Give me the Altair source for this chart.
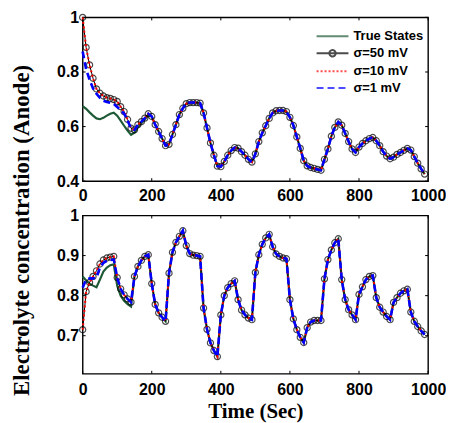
import altair as alt
import pandas as pd

# ---------------- data ----------------
time = list(range(0, 1000, 10))

top_sigma50 = [
    1.000, 0.890, 0.826, 0.777, 0.738, 0.722, 0.712, 0.706, 0.703, 0.699,
    0.692, 0.673, 0.655, 0.626, 0.594, 0.588, 0.607, 0.618, 0.631, 0.647,
    0.637, 0.607, 0.582, 0.556, 0.530, 0.535, 0.571, 0.607, 0.644, 0.667,
    0.684, 0.688, 0.688, 0.688, 0.686, 0.650, 0.595, 0.540, 0.495, 0.455,
    0.453, 0.472, 0.495, 0.512, 0.523, 0.521, 0.508, 0.495, 0.480, 0.470,
    0.500, 0.545, 0.577, 0.603, 0.630, 0.650, 0.658, 0.659, 0.659, 0.655,
    0.634, 0.604, 0.562, 0.520, 0.475, 0.456, 0.450, 0.447, 0.443, 0.440,
    0.480, 0.518, 0.565, 0.597, 0.617, 0.605, 0.575, 0.545, 0.518, 0.505,
    0.525, 0.538, 0.548, 0.556, 0.560, 0.548, 0.530, 0.508, 0.492, 0.482,
    0.488, 0.498, 0.505, 0.513, 0.520, 0.514, 0.490, 0.466, 0.445, 0.426,
]
# early part (t = 0 ... ) where the other curves differ from sigma=50 mV
top_true_early = [0.675, 0.665, 0.652, 0.640, 0.630, 0.627, 0.632, 0.640, 0.647, 0.651,
                  0.640, 0.622, 0.603, 0.585, 0.570, 0.578, 0.597, 0.612, 0.627, 0.643]
top_sigma1_early = [0.875, 0.810, 0.772, 0.740, 0.720, 0.705, 0.695, 0.690, 0.687, 0.683,
                    0.672, 0.660, 0.648, 0.622]

bottom_sigma50 = [
    0.715, 0.810, 0.833, 0.848, 0.862, 0.879, 0.889, 0.894, 0.896, 0.898,
    0.845, 0.817, 0.802, 0.792, 0.784, 0.848, 0.873, 0.888, 0.898, 0.902,
    0.830, 0.778, 0.757, 0.746, 0.736, 0.856, 0.908, 0.933, 0.948, 0.962,
    0.925, 0.905, 0.901, 0.900, 0.898, 0.769, 0.716, 0.682, 0.663, 0.648,
    0.752, 0.800, 0.820, 0.830, 0.837, 0.790, 0.764, 0.752, 0.744, 0.740,
    0.858, 0.902, 0.928, 0.944, 0.953, 0.922, 0.904, 0.898, 0.894, 0.892,
    0.790, 0.742, 0.715, 0.696, 0.683, 0.720, 0.734, 0.738, 0.738, 0.738,
    0.842, 0.890, 0.914, 0.932, 0.942, 0.840, 0.790, 0.765, 0.752, 0.740,
    0.803, 0.822, 0.840, 0.848, 0.850, 0.795, 0.771, 0.759, 0.748, 0.740,
    0.783, 0.795, 0.806, 0.812, 0.816, 0.759, 0.736, 0.723, 0.712, 0.703,
]
bottom_true_early = [0.848, 0.838, 0.830, 0.825, 0.821, 0.840, 0.860, 0.870, 0.876, 0.878,
                     0.825, 0.800, 0.787, 0.779, 0.773]
bottom_sigma1_early = [0.820, 0.840, 0.843, 0.843, 0.845, 0.870, 0.882, 0.887, 0.889, 0.890]

series_names = ["True States", "σ=50 mV", "σ=10 mV", "σ=1 mV"]
series_colors = ["#1f5a37", "#000000", "#ff0000", "#0000ff"]
x_ticks = [0, 200, 400, 600, 800, 1000]
top_y_ticks = [0.4, 0.6, 0.8, 1.0]
bottom_y_ticks = [0.7, 0.8, 0.9, 1.0]


def join(early, base):
    return early + base[len(early):]


W = 347
LABEL_EXPR = "datum.value == 1 ? '1' : format(datum.value, '.1f')"


def panel(s50, true_vals, s1_vals, ydom, yticks, H, bottom):
    df = pd.DataFrame({"time": time, "true": true_vals, "s50": s50,
                       "s10": s50, "s1": s1_vals})
    base = alt.Chart(df)
    if bottom:
        xaxis = alt.Axis(values=x_ticks, format="d", labelPadding=8,
                         title="Time (Sec)", titleFont="Liberation Serif",
                         titleFontSize=21, titleFontWeight="bold",
                         titleColor="black", titlePadding=3)
        yaxis = alt.Axis(values=yticks, labelExpr=LABEL_EXPR, labelPadding=4,
                         title="Electrolyte concentration (Anode)",
                         titleFont="Liberation Serif", titleFontSize=23,
                         titleFontWeight="bold", titleColor="black",
                         titleAngle=270, titleAlign="center",
                         titleBaseline="alphabetic", titleX=-54.5, titleY=14.5)
    else:
        xaxis = alt.Axis(values=x_ticks, format="d", labelPadding=6, title=None)
        yaxis = alt.Axis(values=yticks, labelExpr=LABEL_EXPR, labelPadding=4,
                         title=None)
    xs = alt.Scale(domain=[0, 1000], nice=False)
    ys = alt.Scale(domain=ydom, nice=False, zero=False)
    X = alt.X("time:Q", scale=xs, axis=xaxis)

    def Y(f):
        return alt.Y(f + ":Q", scale=ys, axis=yaxis)

    green = base.mark_line(color=series_colors[0], strokeWidth=2.2).encode(x=X, y=Y("true"))
    black = base.mark_line(color=series_colors[1], strokeWidth=1).encode(x=X, y=Y("s50"))
    circles = base.mark_point(shape="circle", filled=False, size=38,
                              color="black", strokeWidth=1.2).encode(x=X, y=Y("s50"))
    red = base.mark_line(color=series_colors[2], strokeWidth=2,
                         strokeDash=[2, 2.5]).encode(x=X, y=Y("s10"))
    blue = base.mark_line(color=series_colors[3], strokeWidth=2.6,
                          strokeDash=[7, 4]).encode(x=X, y=Y("s1"))

    xt = alt.Chart(pd.DataFrame({"v": x_ticks}))
    yt = alt.Chart(pd.DataFrame({"v": yticks}))
    tx = alt.X("v:Q", scale=xs, axis=xaxis)
    ty = alt.Y("v:Q", scale=ys, axis=yaxis)
    tick_top = xt.mark_rule(color="black", strokeWidth=1).encode(
        x=tx, y=alt.value(0), y2=alt.value(3))
    tick_bot = xt.mark_rule(color="black", strokeWidth=1).encode(
        x=tx, y=alt.value(H), y2=alt.value(H - 3))
    tick_left = yt.mark_rule(color="black", strokeWidth=1).encode(
        y=ty, x=alt.value(0), x2=alt.value(3))
    tick_right = yt.mark_rule(color="black", strokeWidth=1).encode(
        y=ty, x=alt.value(W), x2=alt.value(W - 3))

    layers = [tick_top, tick_bot, tick_left, tick_right,
              green, black, circles, red, blue]

    if not bottom:
        line = "M-2,0L2,0"
        line_circle = "M-2,0L2,0M0.4,0A0.4,0.4,0,1,1,-0.4,0A0.4,0.4,0,1,1,0.4,0"
        ldf = pd.DataFrame({"time": [0] * 4, "s50": [0.5] * 4, "series": series_names})
        legend = alt.Legend(orient="none", legendX=242, legendY=10, title=None,
                            labelFont="Liberation Sans", labelFontSize=13,
                            labelFontWeight="bold", labelColor="black",
                            symbolSize=256, symbolStrokeWidth=2,
                            labelOffset=12, rowPadding=1)
        leg = alt.Chart(ldf).mark_point(filled=False, strokeWidth=2).encode(
            x=X, y=Y("s50"),
            color=alt.Color("series:N", sort=series_names,
                            scale=alt.Scale(domain=series_names, range=series_colors),
                            legend=legend),
            shape=alt.Shape("series:N", sort=series_names,
                            scale=alt.Scale(domain=series_names,
                                            range=[line, line_circle, line, line]),
                            legend=legend),
            strokeDash=alt.StrokeDash("series:N", sort=series_names,
                                      scale=alt.Scale(domain=series_names,
                                                      range=[[1, 0], [1, 0], [2, 2], [7, 4]]),
                                      legend=legend),
        ).transform_filter("false")
        layers.append(leg)

    return alt.layer(*layers).properties(width=W, height=H)


top = panel(top_sigma50, join(top_true_early, top_sigma50),
            join(top_sigma1_early, top_sigma50), [0.4, 1.0], top_y_ticks, 164.5, False)
bot = panel(bottom_sigma50, join(bottom_true_early, bottom_sigma50),
            join(bottom_sigma1_early, bottom_sigma50), [0.605, 1.0], bottom_y_ticks, 159, True)

chart = alt.vconcat(top, bot, spacing=34, bounds="flush").properties(
    padding={"left": 1, "top": -0.5, "right": -1, "bottom": 0},
    background="white"
).configure_view(
    stroke="black", strokeWidth=1.4
).configure_axis(
    labelFont="Liberation Sans", labelFontSize=16, labelFontWeight="bold",
    labelColor="black", ticks=False, domain=False, grid=False,
    labelFlush=False, labelOverlap=False
)

chart.save("out.html", embed_options={"renderer": "svg", "actions": False})
